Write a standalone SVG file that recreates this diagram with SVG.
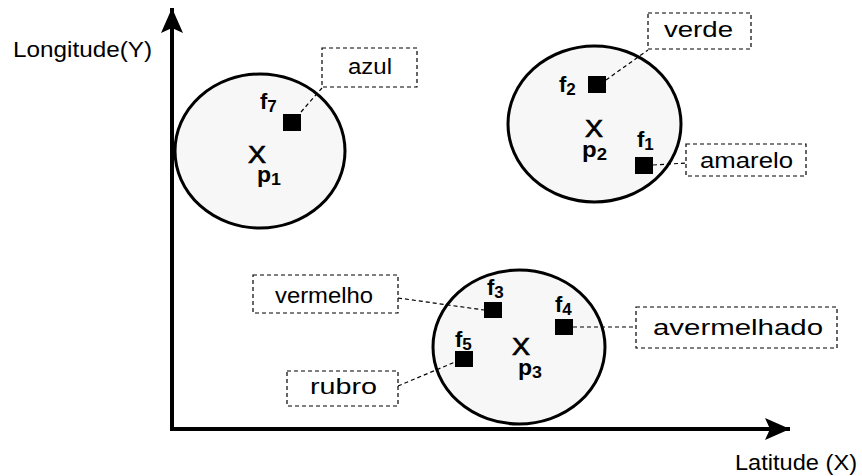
<svg xmlns="http://www.w3.org/2000/svg" width="862" height="476" viewBox="0 0 862 476">
<defs>
<marker id="arr" markerUnits="userSpaceOnUse" markerWidth="28" markerHeight="22" refX="25" refY="11" orient="auto">
<path d="M0,0 L25,11 L0,22 L5,11 Z" fill="#000"/>
</marker>
<style>
.axis{stroke:#000;stroke-width:4;fill:none}
.cl{fill:#f7f7f7;stroke:#000;stroke-width:3}
.sq{fill:#000}
.box{fill:#fff;stroke:#000;stroke-width:1.2;stroke-dasharray:4 3}
.lead{stroke:#000;stroke-width:1.2;stroke-dasharray:4 3;fill:none}
.lbl{font-family:"Liberation Sans",Arial,sans-serif;font-size:22px;fill:#000}
.ax{font-family:"Liberation Sans",Arial,sans-serif;font-size:22px;fill:#000}
.id{font-family:"Liberation Sans",Arial,sans-serif;font-size:22px;font-weight:bold;fill:#000}
.sub{font-size:17px}
.x{font-family:"Liberation Sans",Arial,sans-serif;font-size:23px;fill:#000;stroke:#000;stroke-width:0.7}
</style>
</defs>
<rect width="862" height="476" fill="#fff"/>
<g id="axes">
<line class="axis" x1="172" y1="431" x2="172" y2="8" marker-end="url(#arr)"/>
<line class="axis" x1="170" y1="429" x2="790" y2="429" marker-end="url(#arr)"/>
<text class="ax" x="13" y="57" textLength="139" lengthAdjust="spacingAndGlyphs">Longitude(Y)</text>
<text class="ax" x="735" y="470" textLength="122" lengthAdjust="spacingAndGlyphs">Latitude (X)</text>
</g>
<g id="cluster1">
<ellipse class="cl" cx="260" cy="151" rx="85" ry="77"/>
<text class="x" x="248" y="163" textLength="18" lengthAdjust="spacingAndGlyphs">X</text>
<text class="id" x="257" y="182" textLength="24" lengthAdjust="spacingAndGlyphs">p<tspan class="sub" dy="3">1</tspan></text>
</g>
<g id="cluster2">
<ellipse class="cl" cx="594.5" cy="124" rx="86.5" ry="78"/>
<text class="x" x="585" y="137" textLength="18" lengthAdjust="spacingAndGlyphs">X</text>
<text class="id" x="582" y="157" textLength="25" lengthAdjust="spacingAndGlyphs">p<tspan class="sub" dy="3">2</tspan></text>
</g>
<g id="cluster3">
<ellipse class="cl" cx="519" cy="347" rx="86" ry="77"/>
<text class="x" x="512" y="355" textLength="18" lengthAdjust="spacingAndGlyphs">X</text>
<text class="id" x="518" y="375" textLength="24" lengthAdjust="spacingAndGlyphs">p<tspan class="sub" dy="3">3</tspan></text>
</g>
<g id="connectors">
<line class="lead" x1="301" y1="112" x2="322" y2="88"/>
<line class="lead" x1="606" y1="80" x2="648" y2="50"/>
<line class="lead" x1="653" y1="165" x2="686" y2="163"/>
<line class="lead" x1="398" y1="298" x2="484" y2="310"/>
<line class="lead" x1="398" y1="386" x2="455" y2="362"/>
<line class="lead" x1="573" y1="327" x2="636" y2="327"/>
</g>
<g id="f7">
<rect class="sq" x="283" y="114" width="18" height="17"/>
<text class="id" x="260" y="109">f<tspan class="sub" dy="3">7</tspan></text>
</g>
<g id="f2">
<rect class="sq" x="588" y="76" width="18" height="17"/>
<text class="id" x="559" y="92">f<tspan class="sub" dy="3">2</tspan></text>
</g>
<g id="f1">
<rect class="sq" x="635" y="157" width="18" height="17"/>
<text class="id" x="637" y="147">f<tspan class="sub" dy="3">1</tspan></text>
</g>
<g id="f3">
<rect class="sq" x="484" y="302" width="18" height="16"/>
<text class="id" x="487" y="295">f<tspan class="sub" dy="3">3</tspan></text>
</g>
<g id="f5">
<rect class="sq" x="455" y="351" width="18" height="16"/>
<text class="id" x="455" y="347">f<tspan class="sub" dy="3">5</tspan></text>
</g>
<g id="f4">
<rect class="sq" x="555" y="319" width="18" height="16"/>
<text class="id" x="555" y="312">f<tspan class="sub" dy="3">4</tspan></text>
</g>
<g id="azul">
<rect class="box" x="322" y="48" width="95" height="39"/>
<text class="lbl" x="348" y="74" textLength="44" lengthAdjust="spacingAndGlyphs">azul</text>
</g>
<g id="verde">
<rect class="box" x="648" y="13" width="103" height="36"/>
<text class="lbl" x="664" y="37" textLength="69" lengthAdjust="spacingAndGlyphs">verde</text>
</g>
<g id="amarelo">
<rect class="box" x="686" y="144" width="120" height="32"/>
<text class="lbl" x="700" y="168" textLength="93" lengthAdjust="spacingAndGlyphs">amarelo</text>
</g>
<g id="vermelho">
<rect class="box" x="253" y="275" width="145" height="38"/>
<text class="lbl" x="275" y="303" textLength="98" lengthAdjust="spacingAndGlyphs">vermelho</text>
</g>
<g id="rubro">
<rect class="box" x="287" y="371" width="111" height="35"/>
<text class="lbl" x="310" y="394" textLength="67" lengthAdjust="spacingAndGlyphs">rubro</text>
</g>
<g id="avermelhado">
<rect class="box" x="636" y="307" width="201" height="41"/>
<text class="lbl" x="653" y="335" textLength="170" lengthAdjust="spacingAndGlyphs">avermelhado</text>
</g>
</svg>
